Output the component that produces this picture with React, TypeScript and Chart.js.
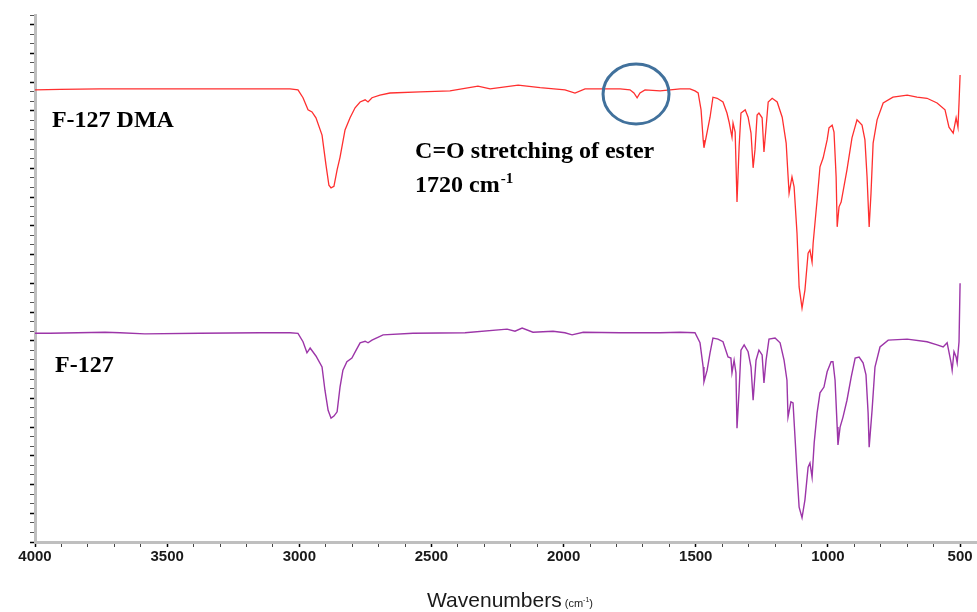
import React, { useEffect, useRef } from "react";
import { Chart, registerables } from "chart.js";

Chart.register(...registerables);

// F-127 DMA spectrum (wavenumber cm-1, transmittance, arbitrary offset units)
const WN_DMA = [4000,3905,3754,3603,3376,3149,3035,3005,2986,2967,2952,2937,2914,2899,2888,2880,2869,2857,2846,2827,2808,2789,2770,2751,2740,2725,2695,2657,2543,2430,2324,2278,2172,2089,1995,1957,1919,1786,1749,1734,1722,1711,1692,1635,1559,1522,1503,1491,1480,1472,1469,1461,1446,1435,1419,1397,1382,1374,1363,1359,1351,1344,1336,1329,1313,1302,1291,1283,1276,1268,1261,1249,1242,1234,1226,1211,1192,1173,1158,1151,1147,1136,1128,1117,1109,1098,1087,1075,1068,1060,1056,1041,1030,1018,1003,996,984,977,969,965,958,950,928,909,890,871,860,852,844,837,829,814,791,754,700,663,625,587,557,542,526,515,508,504,500];
const T_DMA = [85.8,85.9,86.0,86.0,86.0,86.0,86.0,85.8,84.3,82.0,81.6,80.5,77.2,71.5,67.7,67.2,67.5,70.6,73.0,78.2,80.5,82.4,83.5,83.9,83.5,84.3,84.8,85.2,85.4,85.6,86.5,86.0,86.7,86.2,85.8,85.2,86.0,86.0,85.8,85.2,84.3,85.2,85.8,85.6,86.0,86.0,85.6,85.2,82.0,76.3,74.8,76.8,80.6,84.4,84.2,83.5,81.4,79.7,76.8,79.5,77.8,64.5,75.0,81.4,82.0,80.6,77.6,71.0,74.4,81.0,81.4,80.5,74.0,78.7,83.5,84.2,83.5,80.6,75.7,69.6,66.2,69.3,67.4,58.6,48.4,44.4,47.8,54.8,55.4,53.1,56.7,64.9,71.2,72.9,76.3,78.6,79.1,77.8,69.3,59.8,63.6,64.5,70.6,76.7,80.1,79.1,76.3,69.3,59.8,66.2,75.7,80.1,83.3,84.4,84.8,84.4,84.2,83.3,82.0,78.7,77.6,80.5,78.7,83.3,88.6];

// F-127 spectrum
const WN_F127 = [4000,3943,3735,3678,3584,3376,3149,3035,3005,2986,2971,2959,2937,2914,2903,2891,2880,2869,2857,2846,2835,2820,2801,2785,2770,2751,2740,2725,2683,2570,2373,2214,2184,2157,2116,2040,1995,1968,1926,1786,1635,1559,1503,1484,1472,1469,1457,1446,1435,1416,1397,1378,1367,1363,1355,1348,1344,1336,1329,1317,1302,1291,1283,1272,1261,1249,1242,1234,1223,1200,1181,1166,1155,1151,1140,1132,1124,1117,1109,1098,1087,1075,1068,1060,1052,1041,1030,1015,1003,988,981,973,965,962,954,943,928,912,897,882,867,856,848,844,833,822,803,772,700,625,587,564,549,545,534,530,523,515,511,504,500];
const T_F127 = [39.6,39.6,39.8,39.7,39.5,39.6,39.7,39.7,39.6,38.0,35.9,36.8,35.3,33.2,28.8,25.0,23.5,23.9,24.7,29.4,32.6,34.2,34.9,36.4,37.8,38.1,37.8,38.3,39.3,39.6,39.7,40.4,40.0,40.6,39.8,40.0,39.7,39.3,39.8,39.7,39.7,39.8,39.7,37.8,33.2,30.4,32.6,35.9,38.7,38.5,38.0,35.1,34.9,32.1,34.5,32.1,21.6,28.8,36.4,37.4,36.1,33.2,26.9,34.5,36.4,35.5,30.2,34.5,38.5,38.7,37.8,34.5,30.7,23.7,26.6,26.4,19.4,13.1,6.6,4.6,8.0,14.2,15.0,12.3,18.8,24.5,28.3,29.4,32.3,34.2,34.2,30.7,21.8,18.4,21.8,23.7,26.9,31.3,34.9,35.1,34.0,31.7,24.5,18.0,25.0,33.2,37.0,38.3,38.5,38.0,37.4,37.0,37.8,36.8,34.0,32.6,36.1,35.1,34.0,38.0,49.1];

// Axis ticks
const MAJOR_TICKS = [4000, 3500, 3000, 2500, 2000, 1500, 1000, 500];
const MINOR_STEP = 100;
const X_MIN = 436;
const X_MAX = 4000;
const Y_MIN = 0;
const Y_MAX = 100;

// Annotations (anchored in data coordinates)
const LABEL_DMA = { text: "F-127 DMA", x: 3936, y: 78.8 };
const LABEL_F127 = { text: "F-127", x: 3924, y: 32.3 };
const NOTE_LINE1 = { text: "C=O stretching of ester", x: 2562, y: 72.9 };
const NOTE_LINE2 = { text: "1720 cm", sup: "-1", x: 2562, y: 66.4 };
const CIRCLE = { x: 1726, y: 85.0 };

const SERIF = '"Liberation Serif", "Times New Roman", serif';
const SANS = '"Liberation Sans", Arial, sans-serif';

const annotationPlugin = {
  id: "ftirAnnotations",
  afterDraw(chart: any) {
    const { ctx, scales } = chart;
    const xs = scales.x;
    const ys = scales.y;
    ctx.save();
    ctx.fillStyle = "#000";
    ctx.textBaseline = "alphabetic";
    ctx.textAlign = "left";
    ctx.font = `bold 24px ${SERIF}`;
    for (const l of [LABEL_DMA, LABEL_F127, NOTE_LINE1]) {
      ctx.fillText(l.text, xs.getPixelForValue(l.x), ys.getPixelForValue(l.y));
    }
    const x2 = xs.getPixelForValue(NOTE_LINE2.x);
    const y2 = ys.getPixelForValue(NOTE_LINE2.y);
    ctx.fillText(NOTE_LINE2.text, x2, y2);
    const w2 = ctx.measureText(NOTE_LINE2.text).width;
    ctx.font = `bold 15px ${SERIF}`;
    ctx.fillText(NOTE_LINE2.sup, x2 + w2 + 1, y2 - 9);

    // ellipse around the ester band
    ctx.beginPath();
    ctx.ellipse(xs.getPixelForValue(CIRCLE.x), ys.getPixelForValue(CIRCLE.y), 33, 30, 0, 0, Math.PI * 2);
    ctx.strokeStyle = "#41719C";
    ctx.lineWidth = 3;
    ctx.stroke();

    // x-axis title
    ctx.fillStyle = "#1a1a1a";
    ctx.font = `21px ${SANS}`;
    const title = "Wavenumbers";
    const tw = ctx.measureText(title).width;
    ctx.font = `11px ${SANS}`;
    const u1 = " (cm";
    const u1w = ctx.measureText(u1).width;
    ctx.font = `7px ${SANS}`;
    const supw = ctx.measureText("-1").width;
    ctx.font = `11px ${SANS}`;
    const u2w = ctx.measureText(")").width;
    const total = tw + u1w + supw + u2w;
    const cx = (chart.chartArea.left + chart.chartArea.right) / 2;
    let tx = cx - total / 2 + 4;
    const ty = 607;
    ctx.font = `21px ${SANS}`;
    ctx.fillText(title, tx, ty);
    tx += tw;
    ctx.font = `11px ${SANS}`;
    ctx.fillText(u1, tx, ty);
    tx += u1w;
    ctx.font = `7px ${SANS}`;
    ctx.fillText("-1", tx, ty - 5);
    tx += supw;
    ctx.font = `11px ${SANS}`;
    ctx.fillText(")", tx, ty);
    ctx.restore();
  },
};

export default function App() {
  const ref = useRef<HTMLCanvasElement | null>(null);

  useEffect(() => {
    document.body.style.margin = "0";
    const canvas = ref.current;
    if (!canvas) return;
    const dma = WN_DMA.map((x, i) => ({ x, y: T_DMA[i] }));
    const f127 = WN_F127.map((x, i) => ({ x, y: T_F127[i] }));

    const chart = new Chart(canvas, {
      type: "line",
      data: {
        datasets: [
          {
            label: "F-127 DMA",
            data: dma,
            borderColor: "#ff2f2f",
            borderWidth: 1.3,
            pointRadius: 0,
            tension: 0,
            fill: false,
          },
          {
            label: "F-127",
            data: f127,
            borderColor: "#9c35a8",
            borderWidth: 1.4,
            pointRadius: 0,
            tension: 0,
            fill: false,
          },
        ],
      },
      options: {
        animation: false,
        responsive: false,
        layout: { padding: { top: 15, left: 0, right: 0, bottom: 0 } },
        plugins: { legend: { display: false }, tooltip: { enabled: false } },
        scales: {
          x: {
            type: "linear",
            reverse: true,
            min: X_MIN,
            max: X_MAX,
            afterBuildTicks: (scale: any) => {
              const t: any[] = [];
              for (let v = MAJOR_TICKS[MAJOR_TICKS.length - 1]; v <= MAJOR_TICKS[0]; v += MINOR_STEP) t.push({ value: v });
              scale.ticks = t;
            },
            afterFit: (scale: any) => {
              scale.height = 70;
            },
            ticks: {
              autoSkip: false,
              maxRotation: 0,
              padding: 1,
              color: "#1a1a1a",
              font: { family: SANS, weight: "bold", size: 15 },
              callback: (v: any) => (MAJOR_TICKS.includes(Number(v)) ? String(v) : ""),
            },
            grid: {
              drawOnChartArea: false,
              drawTicks: true,
              tickLength: 5,
              tickColor: (c: any) => (c.tick && MAJOR_TICKS.includes(c.tick.value) ? "#000" : "#444"),
              tickWidth: (c: any) => (c.tick && MAJOR_TICKS.includes(c.tick.value) ? 1.5 : 1),
            },
            border: { display: true, color: "#bfbfbf", width: 3 },
          },
          y: {
            min: Y_MIN,
            max: Y_MAX,
            afterFit: (scale: any) => {
              scale.width = 35;
            },
            ticks: { display: false, stepSize: 100 / 55 },
            grid: {
              drawOnChartArea: false,
              drawTicks: true,
              tickLength: 5,
              tickColor: (c: any) => (c.index % 3 === 0 ? "#000" : "#555"),
              tickWidth: (c: any) => (c.index % 3 === 0 ? 1.5 : 1),
            },
            border: { display: true, color: "#bfbfbf", width: 3 },
          },
        },
      } as any,
      plugins: [annotationPlugin],
    });
    return () => chart.destroy();
  }, []);

  return (
    <div style={{ width: 977, height: 612, background: "#fff" }}>
      <canvas ref={ref} width={977} height={612} style={{ display: "block" }} />
    </div>
  );
}
